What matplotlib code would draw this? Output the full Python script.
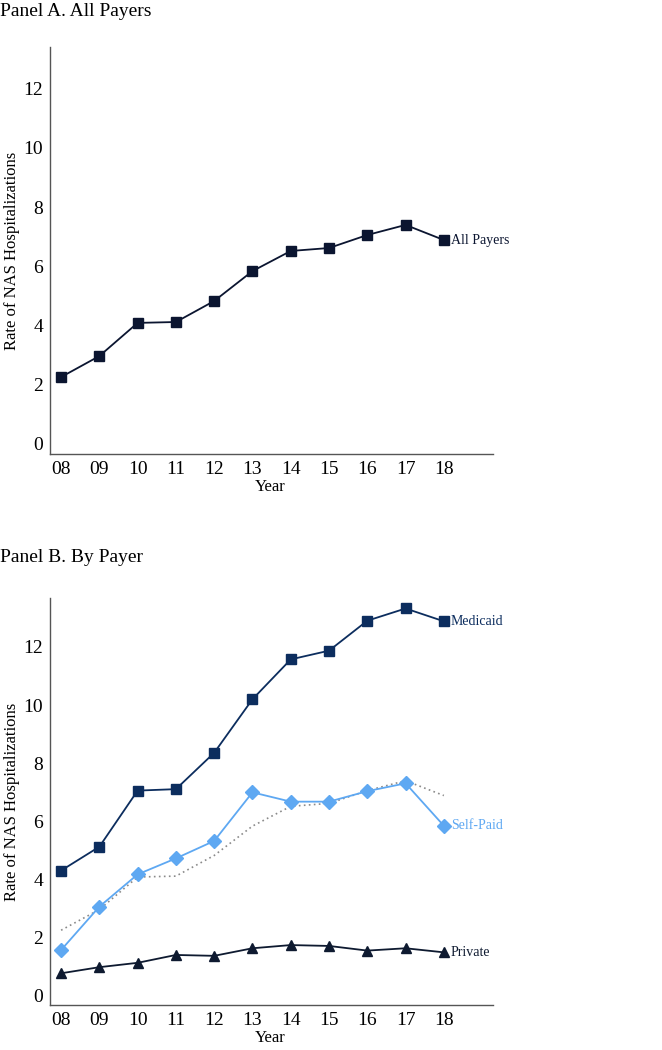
import matplotlib
matplotlib.use("Agg")
import matplotlib.pyplot as plt

plt.rcParams['font.family'] = ['Liberation Serif', 'DejaVu Serif']

# Data
years = [8, 9, 10, 11, 12, 13, 14, 15, 16, 17, 18]
year_labels = ["08", "09", "10", "11", "12", "13", "14", "15", "16", "17", "18"]
y_ticks = [0, 2, 4, 6, 8, 10, 12]

all_payers = [2.26, 2.97, 4.09, 4.12, 4.83, 5.84, 6.52, 6.62, 7.06, 7.40, 6.89]
medicaid = [4.31, 5.13, 7.06, 7.11, 8.36, 10.2, 11.57, 11.87, 12.9, 13.32, 12.88]
self_paid = [1.58, 3.07, 4.18, 4.73, 5.33, 7.0, 6.68, 6.68, 7.04, 7.31, 5.85]
private = [0.78, 0.99, 1.14, 1.41, 1.38, 1.64, 1.75, 1.72, 1.56, 1.64, 1.50]

C_ALL = "#0b1530"
C_MED = "#0c2d5e"
C_SELF = "#5ea8f2"
C_PRIV = "#0e1a30"
C_DOT = "#8a8a8a"


def style_axes(ax, ylim):
    """Common look of both panels."""
    ax.set_xlim(7.71, 19.28)
    ax.set_ylim(*ylim)
    ax.set_xticks(years)
    ax.set_xticklabels(year_labels)
    ax.set_yticks(y_ticks)
    ax.tick_params(length=0, labelsize=14, pad=5)
    for side in ("top", "right"):
        ax.spines[side].set_visible(False)
    for side in ("left", "bottom"):
        ax.spines[side].set_color("#555555")
        ax.spines[side].set_linewidth(1.0)
    ax.set_xlabel("Year", fontsize=12)
    ax.set_ylabel("Rate of NAS Hospitalizations", fontsize=12)
    ax.xaxis.label.set_va("center")
    ax.yaxis.label.set_va("center")
    ax.xaxis.set_label_coords(0.497, -0.082)
    ax.yaxis.set_label_coords(-0.086, 0.5)


def end_label(ax, x, y, txt, color):
    ax.annotate(txt, (x, y), textcoords="offset points", xytext=(5, 0),
                ha="left", va="center", fontsize=10, color=color)


fig = plt.figure(figsize=(6.62, 10.5), dpi=100)

# Panel A
ax1 = fig.add_axes([0.0755, 0.5676, 0.669, 0.3876])
ax1.plot(years, all_payers, color=C_ALL, lw=1.3, marker="s", ms=7)
style_axes(ax1, (-0.34, 13.41))
end_label(ax1, years[-1], all_payers[-1], "All Payers", C_ALL)
fig.text(0.0, 0.989, "Panel A. All Payers", fontsize=14, ha="left", va="center")

# Panel B
ax2 = fig.add_axes([0.0755, 0.04286, 0.669, 0.3876])
ax2.plot(years, all_payers, color=C_DOT, lw=1.2, ls=(0, (1, 2)))
ax2.plot(years, medicaid, color=C_MED, lw=1.3, marker="s", ms=7)
ax2.plot(years, self_paid, color=C_SELF, lw=1.3, marker="D", ms=7.5)
ax2.plot(years, private, color=C_PRIV, lw=1.3, marker="^", ms=7.5)
style_axes(ax2, (-0.31, 13.68))
end_label(ax2, years[-1], medicaid[-1], "Medicaid", C_MED)
end_label(ax2, years[-1], self_paid[-1], "Self-Paid", C_SELF)
end_label(ax2, years[-1], private[-1], "Private", C_PRIV)
fig.text(0.0, 0.4695, "Panel B. By Payer", fontsize=14, ha="left", va="center")

fig.savefig("out.png", dpi=100)
